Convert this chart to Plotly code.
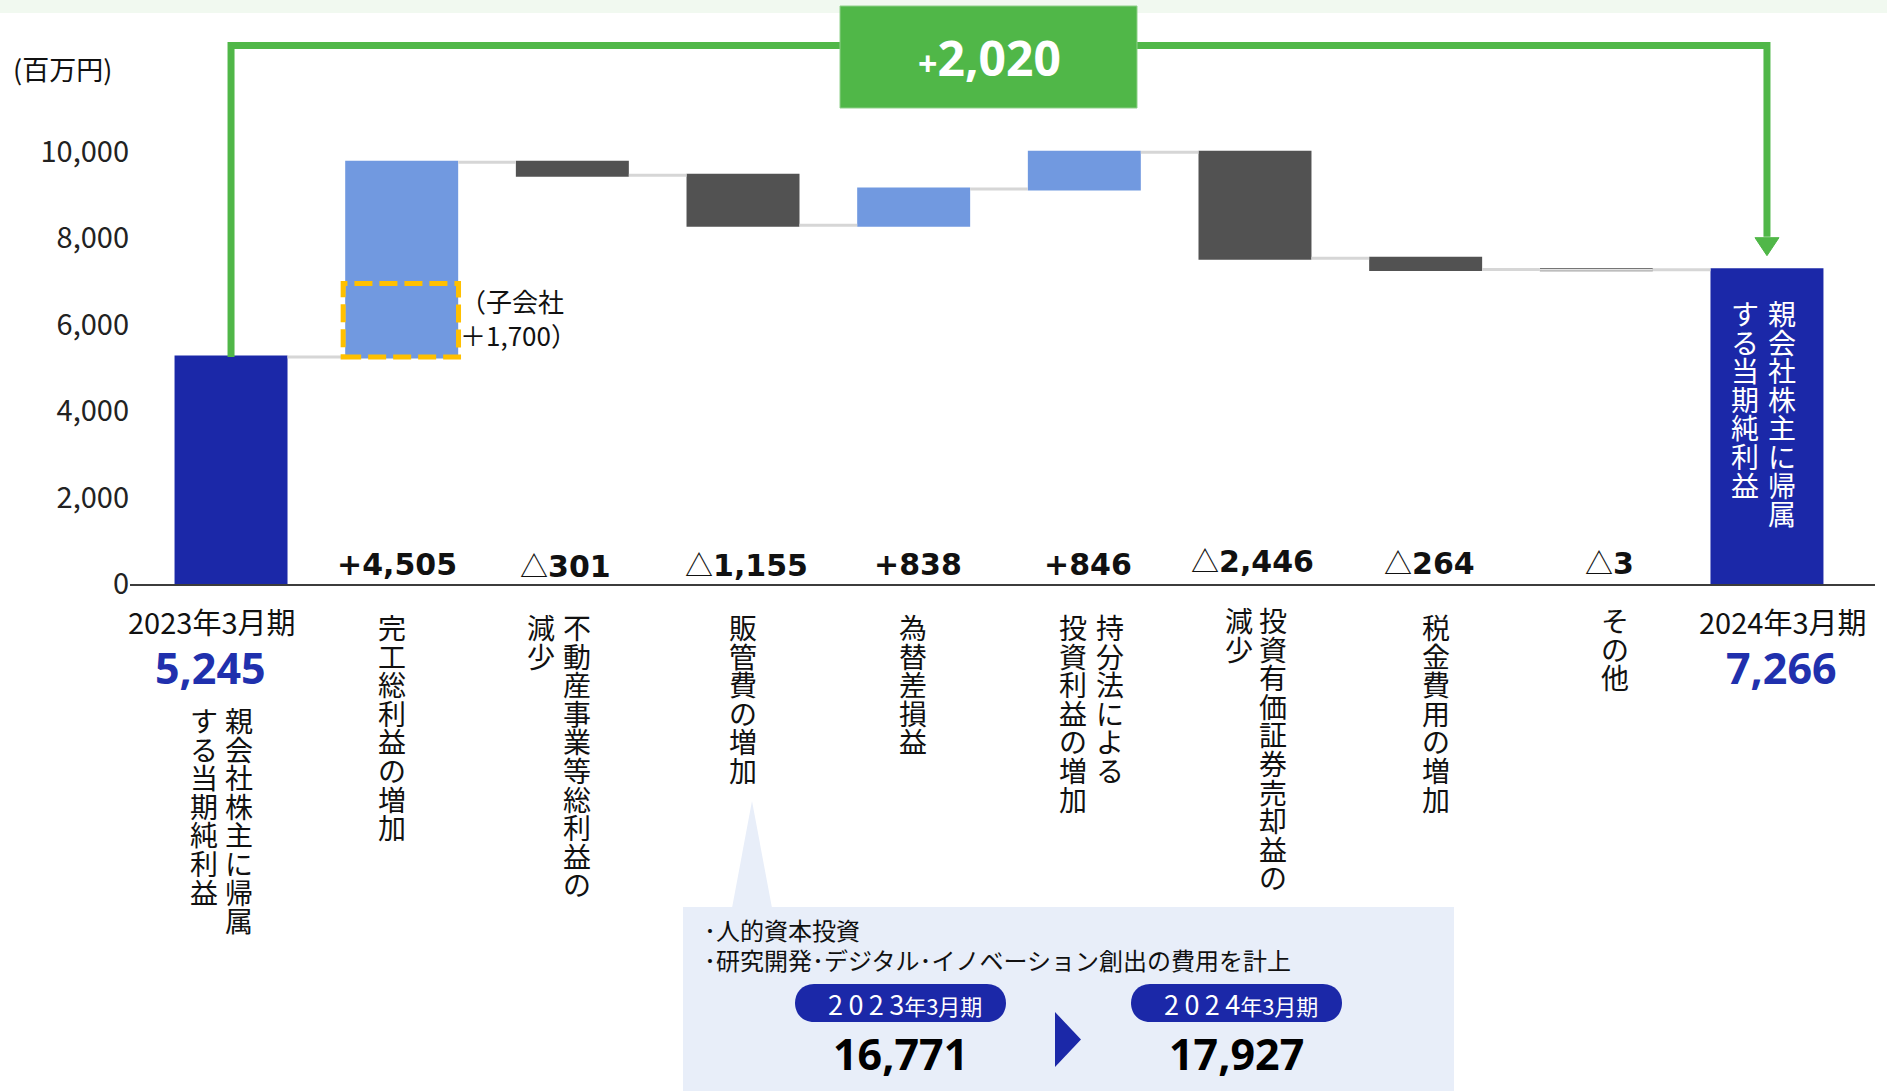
import plotly.graph_objects as go

# Net income attributable to owners of parent: FY2023/3 -> FY2024/3 bridge (million yen)
steps = ["2023年3月期", "完工総利益の増加", "不動産事業等総利益の減少", "販管費の増加", "為替差損益",
         "持分法による投資利益の増加", "投資有価証券売却益の減少", "税金費用の増加", "その他", "2024年3月期"]
step_values = [5245, 4505, -301, -1155, 838, 846, -2446, -264, -3, 7266]
step_measures = ["absolute"] + ["relative"] * 8 + ["absolute"]

# vertical-writing label columns, rightmost column first
label_columns = [
    ["親会社株主に帰属", "する当期純利益"],
    ["完工総利益の増加"],
    ["不動産事業等総利益の", "減少"],
    ["販管費の増加"],
    ["為替差損益"],
    ["持分法による", "投資利益の増加"],
    ["投資有価証券売却益の", "減少"],
    ["税金費用の増加"],
    ["その他"],
    ["親会社株主に帰属", "する当期純利益"],
]
period_labels = ["2023年3月期", "2024年3月期"]
subsidiary_portion = 1700
total_change = 2020
sga_periods = ["2023", "2024"]
sga_values = [16771, 17927]
sga_notes = ["･人的資本投資", "･研究開発･デジタル･イノベーション創出の費用を計上"]
y_ticks = [0, 2000, 4000, 6000, 8000, 10000]
unit_label = "(百万円)"

# ---- page geometry ----
W, H = 1887, 1091
ML, MR, MT, MB = 130, 12, 0, 507
PW, PH = W - ML - MR, H - MT - MB
X_RANGE = [-0.592, 9.633]
Y_MAX = 13500
UPP = Y_MAX / PH          # data units per pixel (vertical)
XPU = PW / (X_RANGE[1] - X_RANGE[0])  # pixels per category
BAR_W = 0.662

JP = "Noto Sans CJK JP"
NAVY = "#1b28a8"
BLUE_TXT = "#2030ad"
LIGHT_BLUE = "#7199e0"
DARK_GREY = "rgba(82,82,82,0.999)"
GREEN = "#50b748"
CALLOUT_BG = "#e8eef9"
INK = "#111111"


def px_x(px):
    return (px - ML) / PW


def px_y(py):
    return (PH + MT - py) / PH


def y_at(py):
    return (PH + MT - py) * UPP


# running level after each step
levels = []
run = 0
for m, v in zip(step_measures, step_values):
    run = v if m == "absolute" else run + v
    levels.append(run)

fig = go.Figure()
fig.add_trace(go.Waterfall(
    x=list(range(len(steps))),
    y=step_values,
    measure=step_measures,
    width=BAR_W,
    totals=dict(marker=dict(color=NAVY, line=dict(width=0))),
    increasing=dict(marker=dict(color=LIGHT_BLUE, line=dict(width=0))),
    decreasing=dict(marker=dict(color=DARK_GREY, line=dict(width=0))),
    connector=dict(mode="between", line=dict(color="#d6d6d6", width=3)),
    textinfo="none",
    hoverinfo="skip",
))

ann = []
shapes = []

# light band across the top
shapes.append(dict(type="rect", xref="paper", yref="paper",
                   x0=px_x(0), x1=px_x(W), y0=px_y(13), y1=px_y(0),
                   fillcolor="#f1f9f0", line=dict(width=0), layer="below"))

# near-zero steps are drawn as a hairline at their level
for i, (m, v) in enumerate(zip(step_measures, step_values)):
    if m == "relative" and abs(v) < 20:
        shapes.append(dict(type="line", xref="x", yref="y",
                           x0=i - BAR_W / 2, x1=i + BAR_W / 2, y0=levels[i], y1=levels[i],
                           line=dict(color="#e2e2e2", width=2)))

# unit label
ann.append(dict(xref="paper", yref="paper", x=px_x(11), y=px_y(69), xanchor="left", yanchor="middle",
                text=unit_label, showarrow=False, font=dict(family=JP, size=27, color=INK)))

# ---- step value labels along the baseline ----
value_dx = [0, -5, -7, 3, 4, 4, -2, 4, 13, 0]
value_cy = [0, 564, 565, 564, 564, 564, 560, 562, 562, 0]
for i, (m, v) in enumerate(zip(step_measures, step_values)):
    if m != "relative":
        continue
    if v >= 0:
        txt = f"+{v:,}"
    else:
        txt = (f"<span style=\"font-family:{JP};font-weight:normal;font-size:28px\">△</span>"
               f"{abs(v):,}")
    ann.append(dict(xref="x", yref="paper", x=i, xshift=value_dx[i], y=px_y(value_cy[i]),
                    xanchor="center", yanchor="middle", text=txt, showarrow=False,
                    font=dict(family="DejaVu Sans", size=30, color=INK, weight="bold")))

# ---- period labels and totals ----
period_idx = [0, len(steps) - 1]
period_dx = [-20, 16]
for k, i in enumerate(period_idx):
    ann.append(dict(xref="x", yref="paper", x=i, xshift=period_dx[k], y=px_y(621),
                    xanchor="center", yanchor="middle", text=period_labels[k], showarrow=False,
                    font=dict(family=JP, size=29, color=INK)))
    ann.append(dict(xref="x", yref="paper", x=i, xshift=period_dx[k] - 1, y=px_y(667),
                    xanchor="center", yanchor="middle", text=f"{step_values[i]:,}", showarrow=False,
                    font=dict(family="Noto Sans", size=43, color=BLUE_TXT, weight="bold")))

# ---- vertical category labels: one glyph per line, 1.3 x 22px line pitch ----
col_dx = [[8, -27], [-10], [5, -31], [0], [-1], [26, -11], [18, -16], [10], [19], [15, -22]]
col_top = [719, 626, 626, 626, 626, 626, 619, 626, 619, 312]
PITCH = 22 * 1.3
for i, cols in enumerate(label_columns):
    colour = "white" if i == len(steps) - 1 else INK
    for j, col in enumerate(cols):
        text = "<br>".join(f"<span style=\"font-size:28px\">{ch}</span>" for ch in col)
        mid = col_top[i] + (len(col) - 1) * PITCH / 2
        ann.append(dict(xref="x", yref="paper", x=i, xshift=col_dx[i][j],
                        y=px_y(mid + 1), xanchor="center", yanchor="middle", align="center",
                        text=text, showarrow=False, font=dict(family=JP, size=22, color=colour)))

# ---- subsidiary portion of the gross profit increase ----
base1 = levels[0]
shapes.append(dict(type="rect", xref="x", yref="y",
                   x0=1 - 0.343, x1=1 + 0.333, y0=base1, y1=base1 + subsidiary_portion,
                   line=dict(color="#ffc000", width=5, dash="18px,7px"), fillcolor="rgba(0,0,0,0)"))
ann.append(dict(xref="x", yref="y", x=1, xshift=56, y=base1 + subsidiary_portion / 2 + 3 * UPP,
                xanchor="left", yanchor="middle", align="left",
                text=f"（子会社<br>＋{subsidiary_portion:,}）", showarrow=False,
                font=dict(family=JP, size=26, color=INK)))

# ---- overall change bracket ----
top_y = y_at(45.5)
tip_y = levels[-1] + 14 * UPP
head_y = tip_y + 18 * UPP
last = len(steps) - 1
half_head = 12 / XPU
shapes.append(dict(type="path", xref="x", yref="y",
                   path=f"M 0,{levels[0]} L 0,{top_y} L {last},{top_y} L {last},{head_y + UPP}",
                   line=dict(color=GREEN, width=7), fillcolor="rgba(0,0,0,0)"))
shapes.append(dict(type="path", xref="x", yref="y",
                   path=f"M {last - half_head},{head_y} L {last + half_head},{head_y} L {last},{tip_y} Z",
                   line=dict(color=GREEN, width=1), fillcolor=GREEN))
shapes.append(dict(type="rect", xref="paper", yref="paper",
                   x0=px_x(840), x1=px_x(1137), y0=px_y(108), y1=px_y(6),
                   fillcolor=GREEN, line=dict(color="#8fd08a", width=1)))
ann.append(dict(xref="paper", yref="paper", x=px_x(989), y=px_y(58), xanchor="center", yanchor="middle",
                text=f"<span style=\"font-size:34px\">+</span>{total_change:,}", showarrow=False,
                font=dict(family="Noto Sans", size=48, color="white", weight="bold")))

# ---- SG&A callout ----
shapes.append(dict(type="rect", xref="paper", yref="paper",
                   x0=px_x(683), x1=px_x(1454), y0=px_y(1091), y1=px_y(907),
                   fillcolor=CALLOUT_BG, line=dict(width=0)))
shapes.append(dict(type="path", xref="paper", yref="paper",
                   path=(f"M {px_x(732)},{px_y(908)} L {px_x(752)},{px_y(801)} "
                         f"L {px_x(772)},{px_y(908)} Z"),
                   fillcolor=CALLOUT_BG, line=dict(width=0)))
for k, note in enumerate(sga_notes):
    ann.append(dict(xref="paper", yref="paper", x=px_x(702), y=px_y(929 + 30 * k),
                    xanchor="left", yanchor="middle", text=note, showarrow=False,
                    font=dict(family=JP, size=24, color=INK)))


def pill_path(x0, x1, y0, y1):
    r = (y1 - y0) / 2
    c = r * 4 / 3
    pts = [
        f"M {px_x(x0 + r)},{px_y(y0)}",
        f"L {px_x(x1 - r)},{px_y(y0)}",
        f"C {px_x(x1 - r + c)},{px_y(y0)} {px_x(x1 - r + c)},{px_y(y1)} {px_x(x1 - r)},{px_y(y1)}",
        f"L {px_x(x0 + r)},{px_y(y1)}",
        f"C {px_x(x0 + r - c)},{px_y(y1)} {px_x(x0 + r - c)},{px_y(y0)} {px_x(x0 + r)},{px_y(y0)}",
        "Z",
    ]
    return " ".join(pts)


pill_left = [795, 1131]
for k in range(2):
    x0 = pill_left[k]
    x1 = x0 + 211
    cx = (x0 + x1) / 2
    shapes.append(dict(type="path", xref="paper", yref="paper", path=pill_path(x0, x1, 984, 1022),
                       fillcolor=NAVY, line=dict(width=0)))
    year = "\u2009".join(sga_periods[k])
    ann.append(dict(xref="paper", yref="paper", x=px_x(cx + 4), y=px_y(1003),
                    xanchor="center", yanchor="middle",
                    text=f"{year}<span style=\"font-size:22px\">年3月期</span>", showarrow=False,
                    font=dict(family=JP, size=27, color="white")))
    ann.append(dict(xref="paper", yref="paper", x=px_x(cx), y=px_y(1053),
                    xanchor="center", yanchor="middle", text=f"{sga_values[k]:,}", showarrow=False,
                    font=dict(family="Noto Sans", size=43, color="black", weight="bold")))

shapes.append(dict(type="path", xref="paper", yref="paper",
                   path=(f"M {px_x(1055)},{px_y(1012)} L {px_x(1081)},{px_y(1039.5)} "
                         f"L {px_x(1055)},{px_y(1067)} Z"),
                   fillcolor=NAVY, line=dict(width=0)))

fig.update_layout(
    width=W, height=H,
    margin=dict(l=ML, r=MR, t=MT, b=MB, pad=0),
    paper_bgcolor="white", plot_bgcolor="white",
    font=dict(family=JP, color=INK),
    showlegend=False,
    xaxis=dict(range=X_RANGE, showticklabels=False, showgrid=False, zeroline=False,
               showline=True, linecolor="#3c3c3c", linewidth=2, ticks="", fixedrange=True),
    yaxis=dict(range=[0, Y_MAX], tickvals=y_ticks, ticktext=[f"{t:,}" for t in y_ticks],
               showgrid=False, zeroline=False, showline=False, ticks="",
               tickfont=dict(family=JP, size=29, color="#222222"), fixedrange=True),
    annotations=ann,
    shapes=shapes,
)

fig.write_html("out.html")
